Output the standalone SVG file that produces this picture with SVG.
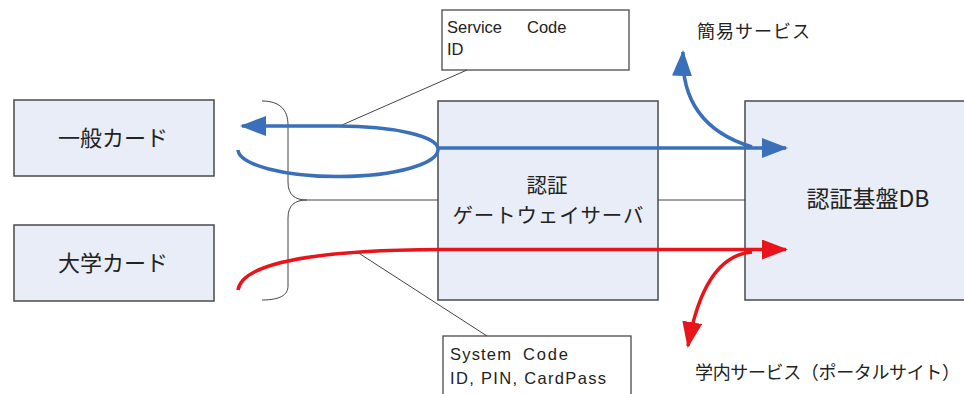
<svg xmlns="http://www.w3.org/2000/svg" width="964" height="394" viewBox="0 0 964 394">
<style>
.box{fill:#E8EDF7;stroke:#4a4a4a;stroke-width:1.5}
.note{fill:#ffffff;stroke:#4a4a4a;stroke-width:1.3}
.thin{fill:none;stroke:#444;stroke-width:1}
.blue{fill:none;stroke:#3A70BA;stroke-width:3.5}
.red{fill:none;stroke:#E8141A;stroke-width:3.5}
.lbl{font-family:"Noto Sans CJK JP","Noto Sans",sans-serif;font-size:22px;fill:#222;text-anchor:middle}
.gw{font-size:20.5px}
.cap{font-family:"Noto Sans CJK JP","Noto Sans",sans-serif;font-size:18px;fill:#222}
.mono{font-family:"Liberation Sans","Noto Sans CJK JP",sans-serif;font-size:16.5px;fill:#222}
</style>
<defs>
<marker id="ab" markerUnits="userSpaceOnUse" markerWidth="26" markerHeight="20" refX="24" refY="10" orient="auto">
<path d="M0,0 L26,10 L0,20 Z" fill="#3A70BA"/>
</marker>
<marker id="ar" markerUnits="userSpaceOnUse" markerWidth="26" markerHeight="20" refX="24" refY="10" orient="auto">
<path d="M0,0 L26,10 L0,20 Z" fill="#E8141A"/>
</marker>
</defs>
<rect width="964" height="394" fill="#ffffff"/>
<g id="card-general"><rect class="box" x="14" y="100" width="200" height="76"/><text class="lbl" x="113" y="146" textLength="110">一般カード</text></g>
<g id="card-univ"><rect class="box" x="14" y="225" width="200" height="76"/><text class="lbl" x="113" y="271" textLength="110">大学カード</text></g>
<g id="gateway"><rect class="box" x="438" y="101" width="220" height="199"/><text class="lbl gw" x="547" y="193">認証</text><text class="lbl gw" x="548" y="223" textLength="191">ゲートウェイサーバ</text></g>
<g id="db"><rect class="box" x="745" y="101" width="230" height="199"/><text class="lbl" x="868" y="207" style="font-size:23px">認証基盤DB</text></g>
<g id="note-service"><rect class="note" x="442" y="10" width="187" height="60"/><text class="mono" x="447" y="33">Service</text><text class="mono" x="527" y="33">Code</text><text class="mono" x="447" y="55">ID</text></g>
<g id="note-system"><rect class="note" x="443" y="336" width="188" height="70"/><text class="mono" x="450" y="360" textLength="61">System</text><text class="mono" x="523" y="360" textLength="45">Code</text><text class="mono" x="450" y="384" textLength="156">ID, PIN, CardPass</text></g>
<g id="label-simple"><text class="cap" x="697" y="38" textLength="113">簡易サービス</text></g>
<g id="label-campus"><text class="cap" x="695" y="379" textLength="265">学内サービス（ポータルサイト）</text></g>
<g id="connectors">
<path class="thin" d="M262,101 C280,101 288,110 288,125 L288,182 C288,195 295,200 307,200 C295,200 288,205 288,218 L288,286 C288,295 280,300 262,300"/>
<path class="thin" d="M307,200 L438,200 M658,200 L745,200"/>
<path class="thin" d="M342,125 L467,70"/>
<path class="thin" d="M357,252 L487,336"/>
<path class="blue" d="M238,150 A100,27 0 0 0 438,149 A100,23 0 0 0 338,126 L242,126" marker-end="url(#ab)"/>
<path class="blue" d="M438,148 L786,148" marker-end="url(#ab)"/>
<path class="blue" d="M752,147 Q680,125 683,52" marker-end="url(#ab)"/>
<path class="red" d="M238,290 C242,262 320,250 440,249.5 L786,249.5" marker-end="url(#ar)"/>
<path class="red" d="M752,252 Q704,256 688,346" marker-end="url(#ar)"/>
</g>
</svg>
